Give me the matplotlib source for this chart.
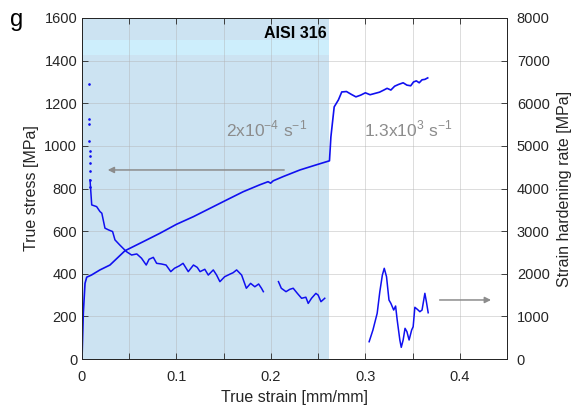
import matplotlib.pyplot as plt

plt.rcParams['font.family'] = ['Liberation Sans', 'DejaVu Sans']

# true stress vs true strain (left axis)
stress_x = [0, 0.0014, 0.0032, 0.005, 0.010, 0.019, 0.0296, 0.0455, 0.065, 0.0825, 0.100,
            0.118, 0.1355, 0.153, 0.1707, 0.188, 0.197, 0.1997, 0.2024, 0.213, 0.2307,
            0.248, 0.262, 0.2635, 0.267, 0.2715, 0.275, 0.280, 0.285, 0.290, 0.295, 0.300,
            0.305, 0.310, 0.315, 0.320, 0.323, 0.327, 0.331, 0.335, 0.340, 0.344, 0.348,
            0.351, 0.354, 0.357, 0.360, 0.363, 0.366]
stress_y = [0, 216, 355, 384, 394, 418, 441, 508, 551, 590, 632,
            668, 707, 746, 785, 817, 832, 825, 836, 856, 887,
            911, 930, 1042, 1183, 1216, 1253, 1255, 1242, 1230, 1238, 1249,
            1240, 1246, 1252, 1263, 1270, 1262, 1280, 1288, 1296, 1285, 1282,
            1300, 1305, 1296, 1310, 1312, 1319]

# strain hardening rate (right axis)
dots_x = [0.0074, 0.0076, 0.0077, 0.0079, 0.0080, 0.0081, 0.0082, 0.0083, 0.0084, 0.0085]
dots_y = [6444, 5630, 5513, 5121, 4879, 4769, 4591, 4418, 4199, 4042]

rate1_x = [0.0085, 0.0103, 0.0155, 0.019, 0.021, 0.0243, 0.028, 0.0324, 0.0349, 0.040,
           0.047, 0.0525, 0.058, 0.063, 0.068, 0.071, 0.0755, 0.079, 0.084, 0.089,
           0.094, 0.098, 0.103, 0.107, 0.1125, 0.118, 0.122, 0.125, 0.130, 0.1337,
           0.139, 0.1425, 0.146, 0.151, 0.157, 0.160, 0.1637, 0.169, 0.174, 0.1785,
           0.183, 0.187, 0.190, 0.192]
rate1_y = [4200, 3615, 3575, 3460, 3420, 3070, 3030, 2990, 2795, 2675,
           2520, 2440, 2465, 2365, 2205, 2340, 2385, 2245, 2230, 2205,
           2050, 2130, 2185, 2245, 2050, 2205, 2150, 2050, 2105, 1970,
           2090, 1970, 1815, 1930, 1995, 2025, 2090, 1970, 1660, 1775,
           1695, 1760, 1660, 1580]

rate2_x = [0.208, 0.211, 0.216, 0.220, 0.2236, 0.228, 0.2325, 0.237, 0.2395, 0.243,
           0.2476, 0.250, 0.253, 0.257]
rate2_y = [1815, 1660, 1580, 1635, 1660, 1540, 1425, 1450, 1305, 1425,
           1540, 1500, 1345, 1425]

rate3_x = [0.304, 0.308, 0.3125, 0.3153, 0.318, 0.320, 0.3224, 0.325, 0.327, 0.330,
           0.332, 0.3337, 0.3365, 0.338, 0.340, 0.342, 0.344, 0.3463, 0.349, 0.3506,
           0.3524, 0.355, 0.3577, 0.360, 0.363, 0.3646, 0.3665]
rate3_y = [406, 680, 1072, 1579, 1970, 2128, 1931, 1384, 1306, 1149,
           1243, 915, 446, 274, 446, 720, 641, 446, 680, 758,
           1213, 1166, 1110, 1149, 1541, 1344, 1086]

shade_end = 0.262
grey = '#8c8c8c'
dark = '#262626'

fig = plt.figure(figsize=(5.71, 4.09), dpi=100)
ax = fig.add_axes([0.1436, 0.1222, 0.888 - 0.1436, 0.956 - 0.1222])
ax2 = ax.twinx()

ax.axvspan(0, shade_end, color='#cce3f2', lw=0, zorder=0.5)
ax.fill_between([0, shade_end], 1426, 1497, color='#cdeefc', lw=0, zorder=0.6)

ax.plot(stress_x, stress_y, color='#1010f0', lw=1.2, zorder=3)
ax2.plot(dots_x, dots_y, ls='none', marker='.', ms=1.8, color='#1010f0')
ax2.plot(rate1_x, rate1_y, color='#1010f0', lw=1.1)
ax2.plot(rate2_x, rate2_y, color='#1010f0', lw=1.1)
ax2.plot(rate3_x, rate3_y, color='#1010f0', lw=1.1)

ax.set_xlim(0, 0.45)
ax.set_ylim(0, 1600)
ax2.set_ylim(0, 8000)

xt = [i * 0.05 for i in range(10)]
ax.set_xticks(xt)
ax.set_xticklabels(['0' if i == 0 else ('%.1f' % v if i % 2 == 0 else '') for i, v in enumerate(xt)])
ax.set_yticks(range(0, 1601, 200))
ax2.set_yticks(range(0, 8001, 1000))

ax.grid(True, color='#b0b0b0', lw=0.6, alpha=0.5)
for a in (ax, ax2):
    a.tick_params(direction='in', labelsize=10.5, colors=dark, length=4, width=0.6)
    for s in a.spines.values():
        s.set_color(dark)
        s.set_linewidth(0.7)
ax.tick_params(top=True)
ax.tick_params(axis='x', pad=8)
ax2.tick_params(axis='y', pad=7)

ax.set_xlabel('True strain [mm/mm]', fontsize=11.5, color=dark, labelpad=4)
ax.set_ylabel('True stress [MPa]', fontsize=11.5, color=dark, labelpad=4)
ax2.set_ylabel('Strain hardening rate [MPa]', fontsize=11.5, color=dark, labelpad=5)

ax.text(0.259, 1525, 'AISI 316', fontsize=11.5, fontweight='bold', ha='right', va='center', zorder=5)
ax.text(0.195, 1080, r'2x10$^{\mathregular{-4}}$ s$^{\mathregular{-1}}$', fontsize=12.5, color=grey,
        ha='center', va='center')
ax.text(0.345, 1080, r'1.3x10$^{\mathregular{3}}$ s$^{\mathregular{-1}}$', fontsize=12.5, color=grey,
        ha='center', va='center')
ax.annotate('', xy=(0.0243, 887), xytext=(0.217, 887),
            arrowprops=dict(arrowstyle='-|>', color=grey, lw=1.1, mutation_scale=9))
ax.annotate('', xy=(0.436, 277), xytext=(0.3757, 277),
            arrowprops=dict(arrowstyle='-|>', color=grey, lw=1.1, mutation_scale=9))

fig.text(0.018, 0.95, 'g', fontsize=17, ha='left', va='center')

fig.savefig('out.png', dpi=100)
